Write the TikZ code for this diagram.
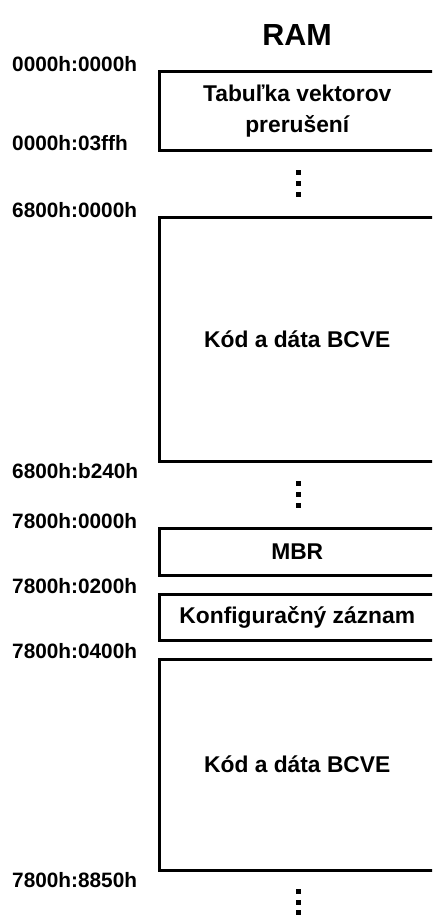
\documentclass[tikz,border=0pt]{standalone}
\usepackage{fontspec}
\setmainfont{Liberation Sans}
\newcommand{\addrfont}{\fontsize{20.8}{24}\selectfont\bfseries}
\newcommand{\cellfont}{\fontsize{22.8}{31}\selectfont\bfseries}
\begin{document}
\begin{tikzpicture}[x=1pt,y=-1pt,
  membox/.style={draw, line width=3pt, minimum width=275.5pt, inner sep=0pt,
    align=center, font=\cellfont},
  addr/.style={anchor=base west, inner sep=0pt, font=\addrfont},
  gapdot/.style={fill, draw=none, minimum size=5pt, inner sep=0pt}]
  \useasboundingbox (0,0) rectangle (432,916);
  \clip (0,0) rectangle (432,916);

  % title
  \node[anchor=base, inner sep=0pt, font=\fontsize{30.5}{36}\selectfont\bfseries]
    (title) at (297,45) {RAM};

  % memory regions (right edges run off the page)
  \node[membox, minimum height=78.5pt] (ivt) at (297.25,110.75)
    {Tabuľka vektorov\\prerušení};
  \node[membox, minimum height=244pt] (bcve1) at (297.25,339) {Kód a dáta BCVE};
  \node[membox, minimum height=47pt] (mbr) at (297.25,551.5) {MBR};
  \node[membox, minimum height=46pt] (cfg) at (297.25,617) {Konfiguračný záznam};
  \node[membox, minimum height=211pt] (bcve2) at (297.25,764.5) {Kód a dáta BCVE};

  % gaps between regions
  \foreach \y [count=\i] in {172.5,183.5,194.5}
    \node[gapdot] (ga\i) at (298,\y) {};
  \foreach \y [count=\i] in {483.5,494.5,505.5}
    \node[gapdot] (gb\i) at (298,\y) {};
  \foreach \y [count=\i] in {891.5,902,912.5}
    \node[gapdot] (gc\i) at (298,\y) {};

  % segment:offset addresses
  \node[addr] (a1) at (12,71) {0000h:0000h};
  \node[addr] (a2) at (12,150) {0000h:03ffh};
  \node[addr] (a3) at (12,217) {6800h:0000h};
  \node[addr] (a4) at (12,478) {6800h:b240h};
  \node[addr] (a5) at (12,528) {7800h:0000h};
  \node[addr] (a6) at (12,593) {7800h:0200h};
  \node[addr] (a7) at (12,658) {7800h:0400h};
  \node[addr] (a8) at (12,887) {7800h:8850h};
\end{tikzpicture}
\end{document}
